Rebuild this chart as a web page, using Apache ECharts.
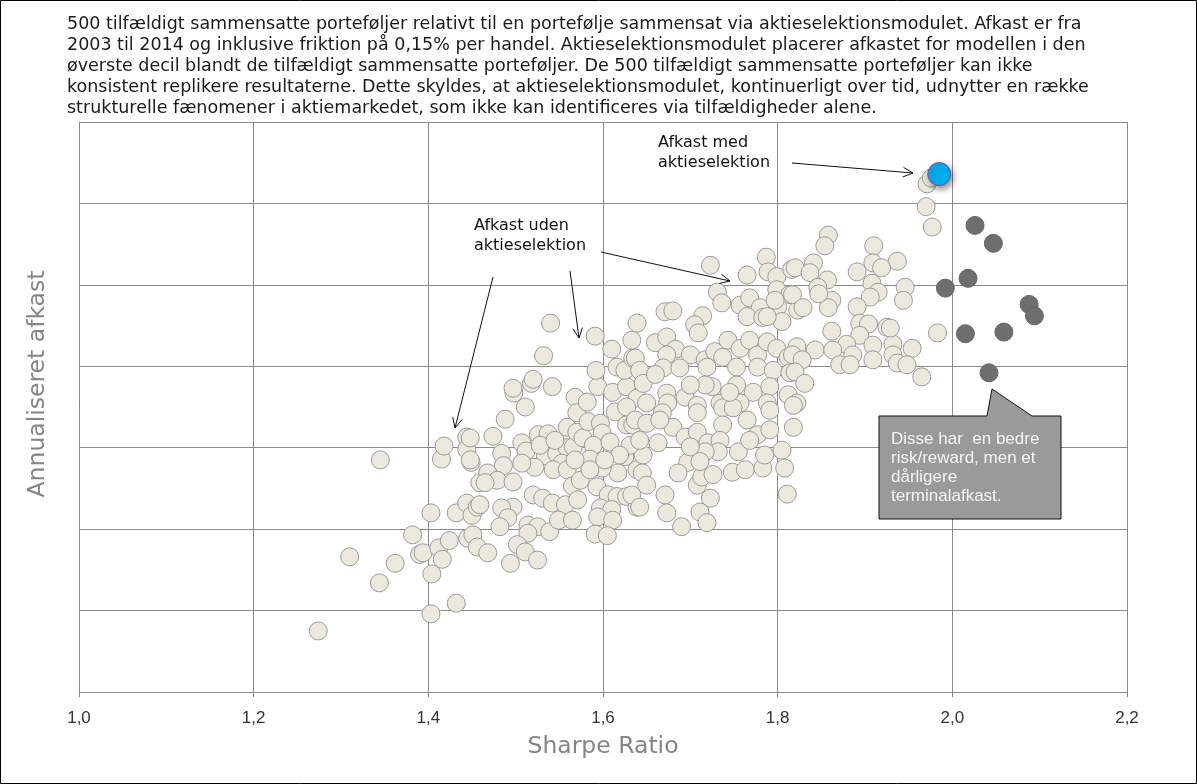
<!DOCTYPE html>
<html>
<head>
<meta charset="utf-8">
<script src="https://cdn.jsdelivr.net/npm/echarts@6/dist/echarts.min.js"></script>
<style>
  html, body { margin: 0; padding: 0; background: #fff; }
  #chart { width: 1197px; height: 784px; }
</style>
</head>
<body>
<div id="chart"></div>
<script>
// 500 random portfolios: [sharpe ratio, annualised return (grid units)]
const randomPortfolios = [
  [1.274,0.75],[1.310,1.66],[1.344,1.34],[1.345,2.85],[1.362,1.58],[1.382,1.93],[1.390,1.69],[1.394,1.71],
  [1.403,0.96],[1.404,1.45],[1.403,2.20],[1.412,1.77],[1.416,1.63],[1.415,2.86],[1.418,3.02],[1.424,1.86],
  [1.432,1.09],[1.432,2.20],[1.444,3.13],[1.444,2.98],[1.449,2.82],[1.459,2.57],[1.444,2.32],[1.450,2.17],
  [1.456,2.27],[1.445,1.89],[1.451,1.93],[1.456,1.78],
  [1.518,3.79],[1.542,3.75],[1.498,3.67],[1.511,3.50],[1.488,3.35],[1.474,3.14],[1.448,3.12],[1.448,2.85],
  [1.484,2.93],[1.507,3.06],[1.512,2.96],[1.526,3.16],[1.537,3.17],[1.534,2.90],[1.547,2.93],[1.559,3.00],
  [1.566,3.01],[1.553,2.81],[1.543,2.73],[1.559,2.73],[1.565,2.53],[1.522,2.76],[1.507,2.81],[1.486,2.78],
  [1.468,2.69],[1.479,2.60],[1.465,2.57],[1.497,2.58],[1.520,2.42],[1.531,2.38],[1.542,2.32],[1.557,2.30],
  [1.497,2.27],[1.484,2.26],[1.459,2.30],[1.491,2.14],[1.482,2.03],[1.514,2.05],[1.525,2.03],[1.539,1.97],
  [1.549,2.11],[1.565,2.11],[1.514,1.95],[1.468,1.71],[1.502,1.81],[1.511,1.72],[1.525,1.62],[1.494,1.58],
  [1.568,3.62],[1.570,3.43],[1.582,3.56],[1.594,3.75],[1.611,3.68],[1.627,3.75],[1.639,3.61],[1.614,3.44],
  [1.627,3.50],[1.559,3.25],[1.570,3.19],[1.577,3.12],[1.583,3.32],[1.597,3.30],[1.599,3.18],[1.589,3.03],
  [1.608,3.07],[1.627,3.28],[1.634,3.28],[1.625,2.89],[1.617,2.69],[1.639,2.73],[1.599,2.75],[1.585,2.86],
  [1.593,2.52],[1.606,2.42],[1.616,2.40],[1.597,2.26],[1.610,2.24],[1.594,2.15],[1.611,2.11],[1.627,2.40],
  [1.639,2.27],[1.591,1.94],[1.605,1.92],
  [1.540,4.53],[1.532,4.13],[1.591,4.37],[1.610,4.21],[1.592,3.95],[1.616,3.99],[1.625,3.95],[1.634,4.10],
  [1.633,4.32],[1.639,4.53],[1.520,3.84],[1.497,3.73],
  [1.723,5.24],[1.765,5.12],[1.787,5.34],[1.789,5.16],[1.799,5.10],[1.816,5.19],[1.731,4.91],[1.736,4.78],
  [1.757,4.75],[1.768,4.84],[1.780,4.72],[1.799,4.94],[1.800,4.73],[1.814,4.88],[1.671,4.67],[1.680,4.68],
  [1.714,4.62],[1.705,4.51],[1.709,4.41],[1.765,4.61],[1.783,4.60],[1.805,4.55],[1.823,4.69],[1.660,4.29],
  [1.673,4.36],[1.683,4.21],[1.673,4.14],[1.700,4.14],[1.717,4.08],[1.728,4.18],[1.743,4.32],[1.757,4.22],
  [1.768,4.32],[1.777,4.14],[1.788,4.30],[1.799,4.22],[1.812,4.11],[1.822,4.24],[1.637,4.10],[1.642,3.95],
  [1.669,3.98],[1.688,3.98],[1.719,3.99],[1.737,4.11],[1.753,3.99],[1.777,3.99],[1.795,3.95],[1.814,3.92],
  [1.646,3.79],[1.673,3.67],[1.694,3.62],[1.725,3.75],[1.753,3.77],[1.772,3.68],[1.791,3.75],[1.812,3.65],
  [1.650,3.55],[1.674,3.55],[1.708,3.52],[1.734,3.55],[1.757,3.55],[1.788,3.55],[1.822,3.55],
  [1.668,3.43],[1.708,3.43],[1.737,3.49],[1.749,3.49],[1.765,3.34],[1.791,3.46],[1.818,3.52],[1.818,3.25],
  [1.637,3.34],[1.650,3.30],[1.663,3.06],[1.680,3.25],[1.694,3.13],[1.708,3.19],[1.720,3.06],[1.737,3.28],
  [1.734,3.09],[1.777,3.16],[1.755,2.95],[1.732,2.95],[1.717,2.95],[1.697,2.82],[1.686,2.69],[1.646,2.91],
  [1.645,2.69],[1.650,2.54],[1.633,2.42],[1.642,2.27],[1.671,2.42],[1.673,2.20],[1.690,2.03],[1.708,2.54],
  [1.713,2.64],[1.726,2.67],[1.723,2.38],[1.711,2.21],[1.719,2.08],[1.748,2.70],[1.763,2.73],[1.783,2.75],
  [1.805,2.97],[1.808,2.75],[1.811,2.43],
  [1.977,5.71],[1.858,5.61],[1.854,5.48],[1.910,5.48],[1.937,5.29],[1.909,5.27],[1.919,5.21],[1.891,5.16],
  [1.841,5.27],[1.820,5.21],[1.837,5.15],[1.857,5.06],[1.846,4.97],[1.908,5.02],[1.915,4.91],[1.906,4.85],
  [1.946,4.97],[1.944,4.81],[1.817,4.88],[1.862,4.81],[1.829,4.72],[1.858,4.72],[1.891,4.73],[1.894,4.53],
  [1.904,4.52],[1.925,4.48],[1.862,4.43],[1.983,4.41],[1.894,4.38],[1.879,4.27],[1.909,4.26],[1.932,4.27],
  [1.954,4.22],[1.843,4.20],[1.863,4.20],[1.886,4.14],[1.932,4.14],[1.817,4.14],[1.828,4.08],[1.871,4.02],
  [1.883,4.02],[1.909,4.08],[1.937,4.04],[1.948,4.02],[1.820,3.93],[1.831,3.79],[1.965,3.87],
  [1.971,6.24],[1.976,6.31],[1.970,5.96],[1.929,4.47],[1.797,4.81],[1.847,4.89],[1.788,4.61],
  [1.574,2.60],[1.585,2.73],[1.571,2.36],[1.631,3.03],[1.642,3.09],[1.700,3.01],[1.711,2.83],[1.768,3.09],
  [1.785,2.91],[1.791,3.22],[1.717,3.77],[1.745,3.68],[1.660,3.90],[1.700,3.77],[1.665,3.34],[1.619,2.91],
  [1.602,2.85],[1.568,2.85],[1.528,3.03],[1.545,3.09]
];

// portfolios with better risk/reward but lower terminal return
const betterRiskReward = [
  [2.026,5.73],[2.047,5.51],[2.018,5.08],[1.992,4.96],[2.088,4.76],[2.094,4.62],[2.015,4.40],[2.059,4.42],[2.042,3.92]
];

// portfolio built with the stock selection module
const modelPortfolio = [[1.985,6.36]];

const sharpeTicks = ['1,0', '1,2', '1,4', '1,6', '1,8', '2,0', '2,2'];

const titleLines = [
  '500 tilfældigt sammensatte porteføljer relativt til en portefølje sammensat via aktieselektionsmodulet. Afkast er fra',
  '2003 til 2014 og inklusive friktion på 0,15% per handel. Aktieselektionsmodulet placerer afkastet for modellen i den',
  'øverste decil blandt de tilfældigt sammensatte porteføljer. De 500 tilfældigt sammensatte porteføljer kan ikke',
  'konsistent replikere resultaterne. Dette skyldes, at aktieselektionsmodulet, kontinuerligt over tid, udnytter en række',
  'strukturelle fænomener i aktiemarkedet, som ikke kan identificeres via tilfældigheder alene.'
];

const FONT = '"Liberation Sans", Arial, sans-serif';
const WIDE_FONT = '"DejaVu Sans", Verdana, sans-serif';
const GRID_COLOR = '#8a8a8a';

function arrow (x1, y1, x2, y2) {
  const a = Math.atan2(y2 - y1, x2 - x1);
  const len = 11, spread = 0.45;
  const p1 = [x2 - len * Math.cos(a - spread), y2 - len * Math.sin(a - spread)];
  const p2 = [x2 - len * Math.cos(a + spread), y2 - len * Math.sin(a + spread)];
  return [
    { type: 'line', shape: { x1, y1, x2, y2 }, style: { stroke: '#111', lineWidth: 1 }, z: 50 },
    { type: 'polyline', shape: { points: [p1, [x2, y2], p2] }, style: { stroke: '#111', lineWidth: 1, fill: null }, z: 50 }
  ];
}

const chart = echarts.init(document.getElementById('chart'));

chart.setOption({
  animation: false,
  backgroundColor: '#fff',
  textStyle: { fontFamily: FONT },
  title: {
    text: titleLines.join('\n'),
    left: 62,
    top: 9,
    textStyle: { fontSize: 17.5, fontWeight: 'normal', color: '#1a1a1a', lineHeight: 21, fontFamily: WIDE_FONT }
  },
  grid: { left: 79, right: 70, top: 122, bottom: 92 },
  xAxis: {
    type: 'value',
    min: 1.0,
    max: 2.2,
    interval: 0.2,
    name: 'Sharpe Ratio',
    nameLocation: 'middle',
    nameGap: 43,
    nameTextStyle: { fontSize: 23.5, color: '#858585', fontFamily: WIDE_FONT },
    axisLine: { lineStyle: { color: GRID_COLOR } },
    axisTick: { show: true, length: 5, lineStyle: { color: GRID_COLOR } },
    axisLabel: {
      fontSize: 17, color: '#333', margin: 18,
      formatter: (v) => sharpeTicks[Math.round((v - 1) / 0.2)]
    },
    splitLine: { show: true, lineStyle: { color: GRID_COLOR, width: 1 } }
  },
  yAxis: {
    type: 'value',
    min: 0,
    max: 7,
    interval: 1,
    axisLine: { show: true, lineStyle: { color: GRID_COLOR } },
    axisTick: { show: false },
    axisLabel: { show: false },
    splitLine: { show: true, lineStyle: { color: GRID_COLOR, width: 1 } }
  },
  series: [
    {
      name: 'Afkast uden aktieselektion',
      type: 'scatter',
      data: randomPortfolios,
      symbolSize: 18,
      itemStyle: { color: '#ebe9de', borderColor: '#9b9b9b', borderWidth: 1, opacity: 1 },
      z: 2
    },
    {
      name: 'Bedre risk/reward',
      type: 'scatter',
      data: betterRiskReward,
      symbolSize: 18,
      itemStyle: { color: '#6e6e6e', borderColor: '#666', borderWidth: 1, opacity: 1 },
      z: 3
    },
    {
      name: 'Afkast med aktieselektion',
      type: 'scatter',
      data: modelPortfolio,
      symbolSize: 23,
      itemStyle: {
        color: '#00aeef', borderColor: '#7b4f9e', borderWidth: 1, opacity: 1,
        shadowBlur: 6, shadowColor: 'rgba(0,0,0,0.45)', shadowOffsetX: 2, shadowOffsetY: 3
      },
      z: 4
    }
  ],
  graphic: [
    { type: 'rect', shape: { x: 0.5, y: 0.5, width: 1196, height: 783 }, style: { fill: null, stroke: '#000', lineWidth: 1 }, z: 100 },
    {
      type: 'text', x: 38, y: 384, rotation: Math.PI / 2,
      style: { text: 'Annualiseret afkast', fontSize: 23.5, fill: '#858585', fontFamily: WIDE_FONT, align: 'center', verticalAlign: 'middle' },
      z: 50
    },
    { type: 'text', left: 658, top: 133, style: { text: 'Afkast med\naktieselektion', fontSize: 16, lineHeight: 20, fill: '#111', fontFamily: WIDE_FONT }, z: 50 },
    { type: 'text', left: 474, top: 216, style: { text: 'Afkast uden\naktieselektion', fontSize: 16, lineHeight: 20, fill: '#111', fontFamily: WIDE_FONT }, z: 50 },
    ...arrow(792, 163, 913, 173),
    ...arrow(493, 277, 455, 428),
    ...arrow(570, 271, 579, 338),
    ...arrow(601, 252, 730, 281),
    {
      type: 'polygon',
      shape: { points: [[879, 416], [987, 416], [992, 389], [1032, 416], [1061, 416], [1061, 519], [879, 519]] },
      style: { fill: '#9a9a9a', stroke: '#111', lineWidth: 1 },
      z: 60
    },
    {
      type: 'text', left: 891, top: 430,
      style: { text: 'Disse har  en bedre\nrisk/reward, men et\ndårligere\nterminalafkast.', fontSize: 17, lineHeight: 19, fill: '#f4f4f4', fontFamily: FONT },
      z: 61
    }
  ]
});
</script>
</body>
</html>
